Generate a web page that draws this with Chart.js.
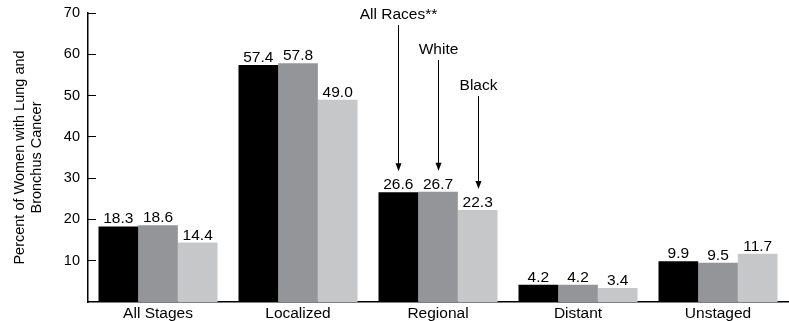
<!DOCTYPE html>
<html>
<head>
<meta charset="utf-8">
<script src="https://cdn.jsdelivr.net/npm/chart.js@4.4.1/dist/chart.umd.min.js"></script>
<style>
  html, body { margin: 0; padding: 0; background: #ffffff; }
  #wrap { width: 789px; height: 321px; position: relative; }
</style>
</head>
<body>
<div id="wrap"><canvas id="stageChart"></canvas></div>
<script>
const stages = ['All Stages', 'Localized', 'Regional', 'Distant', 'Unstaged'];
const allRaces = [18.3, 57.4, 26.6, 4.2, 9.9];
const white = [18.6, 57.8, 26.7, 4.2, 9.5];
const black = [14.4, 49.0, 22.3, 3.4, 11.7];
const seriesNames = ['All Races**', 'White', 'Black'];
const yTicks = [10, 20, 30, 40, 50, 60, 70];

const colors = {
    allRaces: '#000000',
    white: '#939598',
    black: '#c6c7c9',
    ink: '#000000'
};

const fontFamily = "'Liberation Sans', Arial, sans-serif";

// value printed above every bar
const valueLabels = {
    id: 'valueLabels',
    afterDatasetsDraw(chart) {
        const ctx = chart.ctx;
        ctx.save();
        ctx.fillStyle = colors.ink;
        ctx.font = `15.5px ${fontFamily}`;
        ctx.textAlign = 'center';
        ctx.textBaseline = 'alphabetic';
        chart.data.datasets.forEach((ds, i) => {
            chart.getDatasetMeta(i).data.forEach((bar, j) => {
                ctx.fillText(ds.data[j].toFixed(1), bar.x, bar.y - 3);
            });
        });
        ctx.restore();
    }
};

// series names with arrows pointing at the Regional bars
const seriesArrows = {
    id: 'seriesArrows',
    afterDatasetsDraw(chart, args, opts) {
        const ctx = chart.ctx;
        const y = chart.scales.y;
        const idx = stages.indexOf(opts.category);
        ctx.save();
        ctx.fillStyle = colors.ink;
        ctx.strokeStyle = colors.ink;
        ctx.lineWidth = 1;
        ctx.font = `15.5px ${fontFamily}`;
        ctx.textAlign = 'center';
        ctx.textBaseline = 'middle';
        chart.data.datasets.forEach((ds, i) => {
            const bar = chart.getDatasetMeta(i).data[idx];
            const x = Math.round(bar.x) + 0.5;
            const ty = y.getPixelForValue(opts.levels[i]);
            ctx.fillText(ds.label, x, ty);
            const y0 = ty + 10;
            const y1 = bar.y - 21;
            ctx.beginPath();
            ctx.moveTo(x, y0);
            ctx.lineTo(x, y1 - 6);
            ctx.stroke();
            ctx.beginPath();
            ctx.moveTo(x - 3, y1 - 8);
            ctx.lineTo(x + 3, y1 - 8);
            ctx.lineTo(x, y1);
            ctx.closePath();
            ctx.fill();
        });
        ctx.restore();
    }
};

new Chart(document.getElementById('stageChart'), {
    type: 'bar',
    data: {
        labels: stages,
        datasets: [
            { label: seriesNames[0], data: allRaces, backgroundColor: colors.allRaces },
            { label: seriesNames[1], data: white, backgroundColor: colors.white },
            { label: seriesNames[2], data: black, backgroundColor: colors.black }
        ]
    },
    options: {
        responsive: true,
        maintainAspectRatio: false,
        animation: false,
        categoryPercentage: 0.85,
        barPercentage: 1.0,
        layout: { padding: { top: 13, right: 1, bottom: 0, left: 0 } },
        plugins: {
            legend: { display: false },
            tooltip: { enabled: false },
            seriesArrows: { category: 'Regional', levels: [69.5, 61, 52.3] }
        },
        scales: {
            x: {
                grid: { display: false, drawTicks: false },
                border: { display: true, color: '#000000', width: 1.5 },
                ticks: {
                    color: colors.ink,
                    font: { family: fontFamily, size: 15.5 },
                    padding: 2,
                    maxRotation: 0,
                    autoSkip: false
                },
                afterFit: s => { s.height = 19; }
            },
            y: {
                min: 0,
                max: 70,
                afterBuildTicks: s => { s.ticks = yTicks.map(v => ({ value: v })); },
                grid: {
                    drawOnChartArea: false,
                    drawTicks: true,
                    tickLength: -8,
                    color: '#000000',
                    lineWidth: 1
                },
                border: { display: true, color: '#000000', width: 1.5 },
                ticks: {
                    color: colors.ink,
                    font: { family: fontFamily, size: 14.5 },
                    padding: 16
                },
                title: {
                    display: true,
                    text: ['Percent of Women with Lung and', 'Bronchus Cancer'],
                    color: colors.ink,
                    font: { family: fontFamily, size: 14.5, lineHeight: 1.2 },
                    padding: { top: 11, bottom: 0 }
                },
                afterFit: s => {
                    s.width = 88;
                    s.paddingTop = 0;
                    s.paddingBottom = 0;
                }
            }
        }
    },
    plugins: [valueLabels, seriesArrows]
});
</script>
</body>
</html>
